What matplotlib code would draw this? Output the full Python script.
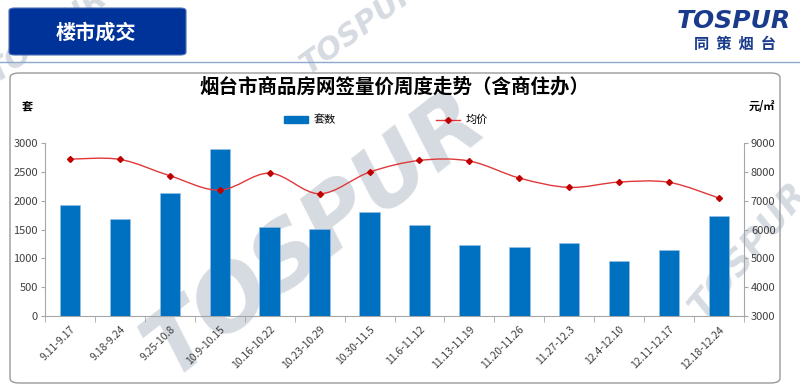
import numpy as np
import matplotlib
matplotlib.use("Agg")
import matplotlib.pyplot as plt
from matplotlib.patches import FancyBboxPatch, Patch
from matplotlib.lines import Line2D
from matplotlib.path import Path
from matplotlib.patches import PathPatch

plt.rcParams['font.family'] = ['Noto Sans CJK SC', 'DejaVu Sans']

weeks = ["9.11-9.17", "9.18-9.24", "9.25-10.8", "10.9-10.15", "10.16-10.22",
         "10.23-10.29", "10.30-11.5", "11.6-11.12", "11.13-11.19", "11.20-11.26",
         "11.27-12.3", "12.4-12.10", "12.11-12.17", "12.18-12.24"]
units = [1920, 1680, 2140, 2890, 1540, 1505, 1805, 1585, 1230, 1195, 1270, 960, 1140, 1735]
price = [8440, 8430, 7865, 7365, 7955, 7240, 7990, 8395, 8375, 7785, 7460, 7645, 7635, 7090]

bar_blue = "#0070C0"
line_red = "#E0383A"
mark_red = "#C00000"
wm_color = "#d5dbe1"

fig = plt.figure(figsize=(8, 3.91), dpi=100)

# watermarks (behind the chart)
wm = dict(fontweight="bold", fontstyle="italic", color=wm_color, ha="center", va="center",
          family="DejaVu Sans", zorder=0)
fig.text(0.395, 0.40, "TOSPUR", fontsize=64, rotation=38, **wm)
fig.text(0.45, 0.93, "TOSPUR", fontsize=22, rotation=36, **wm)
fig.text(0.06, 0.91, "TOSPUR", fontsize=22, rotation=36, **wm)
fig.text(0.935, 0.36, "TOSPUR", fontsize=26, rotation=50, **wm)

# header box
hdr = FancyBboxPatch((9 / 800, 1 - 55 / 391), 177 / 800, 47 / 391,
                     boxstyle="round,pad=0,rounding_size=0.007", transform=fig.transFigure,
                     facecolor="#003399", edgecolor="#4d6fb5", linewidth=0.8, zorder=2)
fig.patches.append(hdr)
fig.text(96 / 800, 1 - 32 / 391, "楼市成交", color="white", fontsize=14.5, fontweight="bold",
         ha="center", va="center", zorder=3)
fig.add_artist(Line2D([0, 1], [1 - 62 / 391] * 2, color="#8fa8d0", linewidth=1.0,
                      transform=fig.transFigure))

# logo
fig.text(734 / 800, 1 - 21 / 391, "TOSPUR", color="#1a3a8c", fontsize=18, fontweight="heavy",
         fontstyle="italic", ha="center", va="center", family="DejaVu Sans")
fig.text(735 / 800, 1 - 44 / 391, "同  策  烟  台", color="#1a3a8c", fontsize=11,
         fontweight="bold", ha="center", va="center")

# chart panel
panel = FancyBboxPatch((10 / 800, 1 - 383 / 391), 770 / 800, 310 / 391,
                       boxstyle="round,pad=0,rounding_size=0.012", transform=fig.transFigure,
                       facecolor="none", edgecolor="#9a9a9a", linewidth=1.0, zorder=2)
fig.patches.append(panel)

fig.text(395 / 800, 1 - 87 / 391, "烟台市商品房网签量价周度走势（含商住办）", fontsize=14,
         fontweight="bold", ha="center", va="center", color="black")
fig.text(27 / 800, 1 - 106 / 391, "套", fontsize=8, fontweight="bold", ha="center", va="center")
fig.text(762 / 800, 1 - 106 / 391, "元/㎡", fontsize=8, fontweight="bold", ha="center", va="center")

ax = fig.add_axes([45 / 800, 1 - 316 / 391, 699 / 800, 173 / 391])
ax.set_zorder(1)
ax.patch.set_alpha(0)
n = len(weeks)
x = np.arange(n)
ax.bar(x, units, width=0.41, color=bar_blue, edgecolor="#9cc3e6", linewidth=0.4, zorder=3)
ax.set_xlim(-0.5, n - 0.5)
ax.set_ylim(0, 3000)
ax.set_yticks(np.arange(0, 3001, 500))
ax.set_xticks(x)
ax.set_xticklabels(weeks, rotation=45, ha="right", rotation_mode="anchor", fontsize=7.5,
                   color="#404040")
ax.tick_params(axis="x", length=0, pad=6)
ax.set_xticks(np.arange(-0.5, n, 1), minor=True)
ax.tick_params(axis="x", which="minor", length=4, color="#a6a6a6")
ax.tick_params(axis="y", length=3, color="#a6a6a6", labelsize=8, labelcolor="#404040", pad=2)
for s in ["top", "right"]:
    ax.spines[s].set_visible(False)
for s in ["left", "bottom"]:
    ax.spines[s].set_color("#a6a6a6")

ax2 = ax.twinx()
ax2.set_zorder(2)
ax2.patch.set_alpha(0)
ax2.set_ylim(3000, 9000)
ax2.set_yticks(np.arange(3000, 9001, 1000))
ax2.tick_params(axis="y", length=3, color="#a6a6a6", labelsize=8, labelcolor="#404040", pad=2)
for s in ["top", "left", "bottom"]:
    ax2.spines[s].set_visible(False)
ax2.spines["right"].set_color("#a6a6a6")

# smoothed price line (Catmull-Rom style bezier through the points)
pts = np.column_stack([x, price]).astype(float)
verts = [pts[0]]
codes = [Path.MOVETO]
for i in range(n - 1):
    p0 = pts[i - 1] if i > 0 else pts[i]
    p1 = pts[i]
    p2 = pts[i + 1]
    p3 = pts[i + 2] if i + 2 < n else pts[i + 1]
    c1 = p1 + (p2 - p0) / 6.0
    c2 = p2 - (p3 - p1) / 6.0
    verts += [c1, c2, p2]
    codes += [Path.CURVE4] * 3
ax2.add_patch(PathPatch(Path(verts, codes), facecolor="none", edgecolor=line_red,
                        linewidth=1.0, zorder=4))
ax2.plot(x, price, linestyle="none", marker="D", markersize=3, color=mark_red, zorder=5)

handles = [Patch(facecolor=bar_blue, edgecolor=bar_blue),
           Line2D([0], [0], color=line_red, marker="D", markersize=3, markerfacecolor=mark_red,
                  markeredgecolor=mark_red, linewidth=1)]
fig.legend(handles, ["套数", "均价"], loc="center", bbox_to_anchor=(386 / 800, 1 - 120 / 391),
           ncol=2, frameon=False, fontsize=8, columnspacing=9, handlelength=2.2,
           handleheight=0.6, handletextpad=0.5)

fig.savefig("out.png", dpi=100)
